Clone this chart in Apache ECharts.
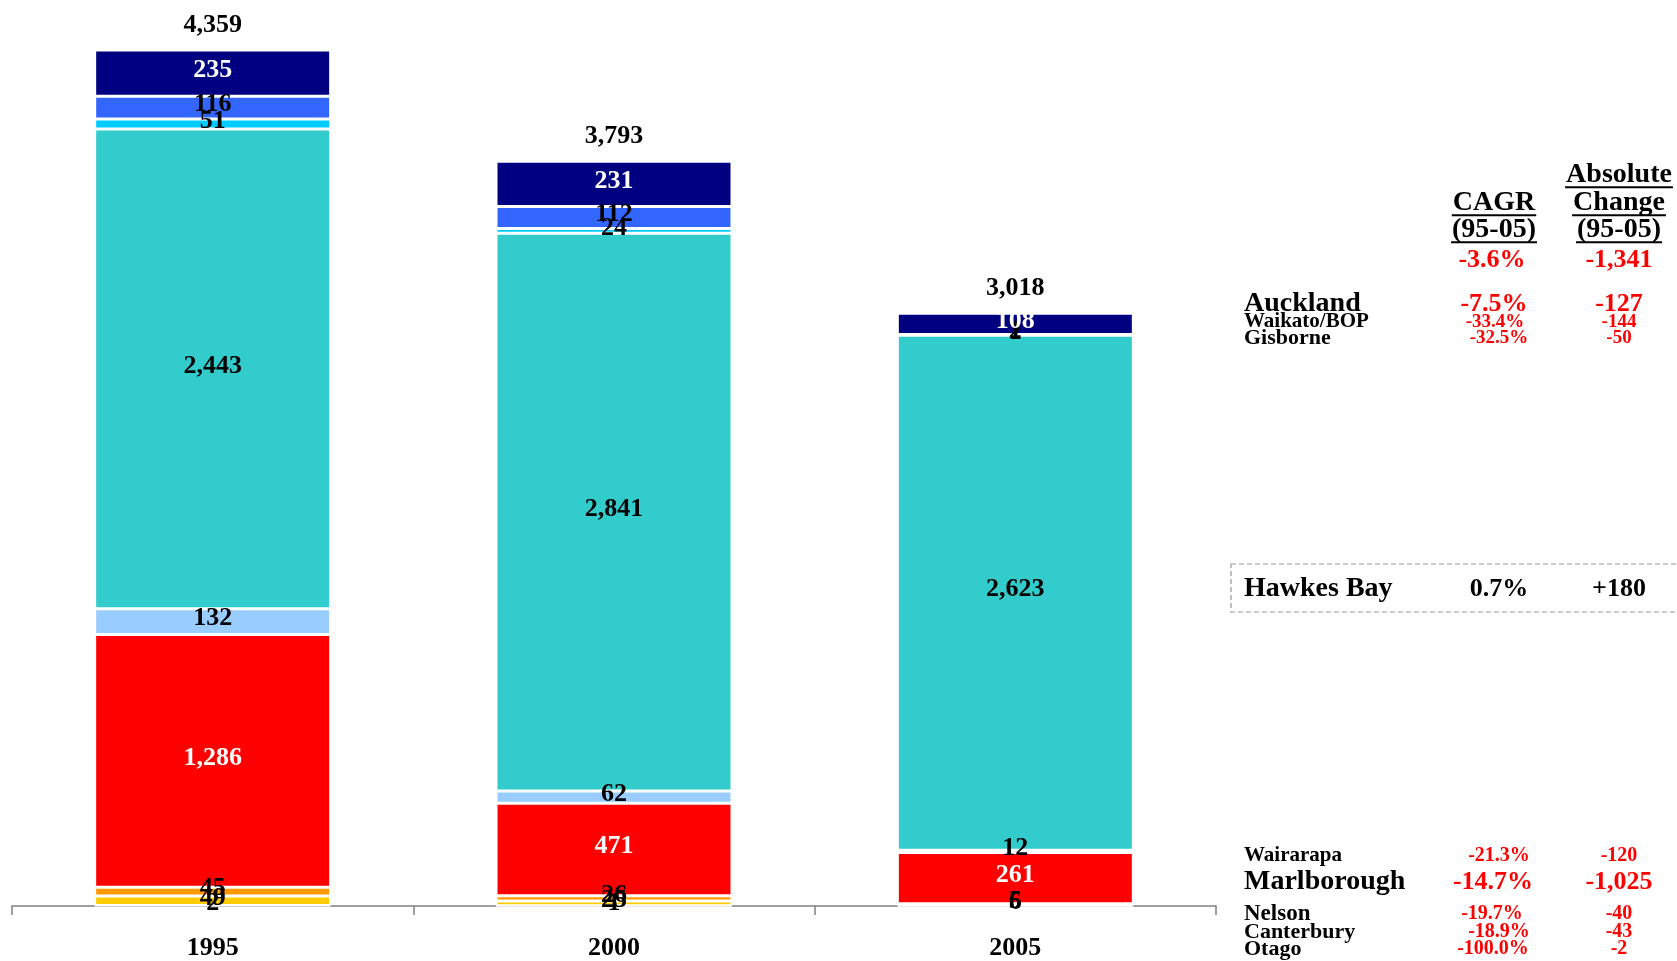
<!DOCTYPE html>
<html>
<head>
<meta charset="utf-8">
<script src="https://cdn.jsdelivr.net/npm/echarts@6/dist/echarts.min.js"></script>
<style>
html,body{margin:0;padding:0;background:#fff;}
#chart{width:1677px;height:961px;}
</style>
</head>
<body>
<div id="chart"></div>
<script>
// ---------- DATA ----------
const years = ['1995', '2000', '2005'];
const regions = ['Otago', 'Canterbury', 'Nelson', 'Marlborough', 'Wairarapa', 'Hawkes Bay', 'Gisborne', 'Waikato/BOP', 'Auckland'];
const otago = [2, 1, 0];
const canterbury = [49, 25, 6];
const nelson = [45, 26, 5];
const marlborough = [1286, 471, 261];
const wairarapa = [132, 62, 12];
const hawkesBay = [2443, 2841, 2623];
const gisborne = [51, 24, 1];
const waikatoBop = [116, 112, 2];
const auckland = [235, 231, 108];

// side table (text as shown)
const tableRegions = ['Auckland', 'Waikato/BOP', 'Gisborne', 'Hawkes Bay', 'Wairarapa', 'Marlborough', 'Nelson', 'Canterbury', 'Otago'];
const tableCagr = ['-7.5%', '-33.4%', '-32.5%', '0.7%', '-21.3%', '-14.7%', '-19.7%', '-18.9%', '-100.0%'];
const tableAbs = ['-127', '-144', '-50', '+180', '-120', '-1,025', '-40', '-43', '-2'];
const totalCagr = '-3.6%';
const totalAbs = '-1,341';
const headerCagr = ['CAGR', '(95-05)'];
const headerAbs = ['Absolute', 'Change', '(95-05)'];

// ---------- STYLE / LAYOUT ----------
const seriesValues = [otago, canterbury, nelson, marlborough, wairarapa, hawkesBay, gisborne, waikatoBop, auckland];
const colors = ['#FFFF99', '#FFCC00', '#FF9900', '#FF0000', '#99CCFF', '#33CCCC', '#00CCFF', '#3366FF', '#000080'];
const labelColors = ['#000', '#000', '#000', '#fff', '#000', '#000', '#000', '#000', '#fff'];
const FONT = '"Liberation Serif", "DejaVu Serif", serif';

const totals = years.map((_, i) => seriesValues.reduce((s, arr) => s + arr[i], 0));
const fmt = v => Number(v).toLocaleString('en-US');

const series = regions.map((name, k) => ({
  name: name,
  type: 'bar',
  stack: 'total',
  barWidth: 236,
  data: seriesValues[k],
  itemStyle: { color: colors[k], borderColor: '#ffffff', borderWidth: 1.5 },
  label: {
    show: true,
    position: 'inside',
    offset: [0, -3],
    color: labelColors[k],
    fontFamily: FONT,
    fontWeight: 'bold',
    fontSize: 26,
    formatter: p => (p.value ? fmt(p.value) : '')
  }
}));

// zero-height cap on each stack carrying the total label
series.push({
  name: 'Total',
  type: 'bar',
  stack: 'total',
  barWidth: 236,
  data: totals.map(() => 0),
  itemStyle: { color: 'rgba(0,0,0,0)', borderWidth: 0 },
  label: {
    show: true,
    position: 'top',
    distance: 12,
    color: '#000000',
    opacity: 1,
    fontFamily: FONT,
    fontWeight: 'bold',
    fontSize: 26,
    formatter: p => fmt(totals[p.dataIndex])
  },
  z: 10
});

// table layout: [centerY, labelSize, valueSize, cagrX]
const rowLayout = [
  [304, 28, 26, 1494],
  [322, 21, 19, 1495],
  [338, 22, 19, 1499],
  [589, 28, 26, 1499],
  [856, 21, 20, 1499],
  [882, 28, 26, 1493],
  [914, 23, 20, 1492],
  [932, 22, 20, 1499],
  [949, 22, 20, 1493]
];
const absX = 1619;
const labelX = 1244;

const ctx = document.createElement('canvas').getContext('2d');
function textW(t, size) {
  ctx.font = 'bold ' + size + 'px ' + FONT;
  return ctx.measureText(t).width;
}
function txt(t, x, y, size, color, align) {
  return {
    type: 'text', x: x, y: y, silent: true, z: 100,
    style: {
      text: t, fill: color, fontFamily: FONT, fontWeight: 'bold', fontSize: size,
      align: align || 'center', verticalAlign: 'middle'
    }
  };
}
function underline(t, cx, cy, size) {
  const w = textW(t, size);
  const y = cy + 0.33 * size + 3;
  return {
    type: 'line', silent: true, z: 100,
    shape: { x1: cx - w / 2 - 1, y1: y, x2: cx + w / 2 + 1, y2: y },
    style: { stroke: '#000', lineWidth: 1.8 }
  };
}

const graphics = [];
const hSize = 28;
const cagrHX = 1494, absHX = 1619;
const cagrHY = [203, 230];
const absHY = [175, 203, 230];
headerCagr.forEach((t, i) => {
  graphics.push(txt(t, cagrHX, cagrHY[i], hSize, '#000'));
  graphics.push(underline(t, cagrHX, cagrHY[i], hSize));
});
headerAbs.forEach((t, i) => {
  graphics.push(txt(t, absHX, absHY[i], hSize, '#000'));
  graphics.push(underline(t, absHX, absHY[i], hSize));
});
graphics.push(txt(totalCagr, 1492, 260, 26, '#FF0000'));
graphics.push(txt(totalAbs, absX, 260, 26, '#FF0000'));

tableRegions.forEach((r, i) => {
  const [y, ls, vs, cx] = rowLayout[i];
  const valColor = r === 'Hawkes Bay' ? '#000' : '#FF0000';
  graphics.push(txt(r, labelX, y, ls, '#000', 'left'));
  graphics.push(txt(tableCagr[i], cx, y, vs, valColor));
  graphics.push(txt(tableAbs[i], absX, y, vs, valColor));
});

graphics.push({
  type: 'rect', silent: true, z: 90,
  shape: { x: 1231, y: 564, width: 470, height: 48 },
  style: { fill: 'none', stroke: '#999999', lineWidth: 1.2, lineDash: [5, 3] }
});

const chart = echarts.init(document.getElementById('chart'), null, { renderer: 'canvas' });
chart.setOption({
  animation: false,
  backgroundColor: '#ffffff',
  grid: { left: 12, right: 461, top: 22.3, bottom: 53, containLabel: false },
  xAxis: {
    type: 'category',
    data: years,
    axisLine: { show: true, lineStyle: { color: '#808080', width: 1.5 } },
    axisTick: { show: true, alignWithLabel: false, length: 9, lineStyle: { color: '#808080', width: 1.5 } },
    axisLabel: { margin: 29, color: '#000', fontFamily: FONT, fontWeight: 'bold', fontSize: 26 }
  },
  yAxis: {
    type: 'value', min: 0, max: 4500, show: false,
    splitLine: { show: false }
  },
  series: series,
  graphic: graphics
});
</script>
</body>
</html>
